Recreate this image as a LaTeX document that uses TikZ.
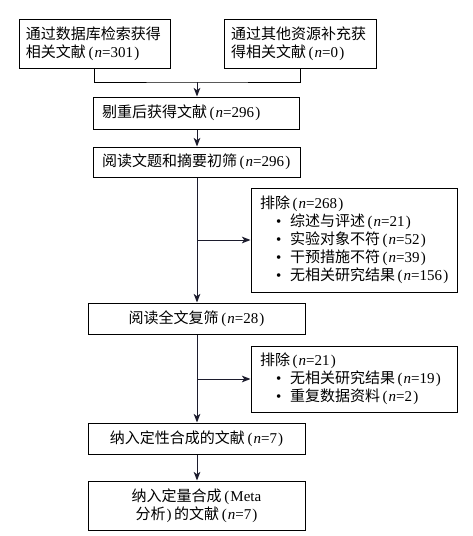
\documentclass[tikz,border=0pt]{standalone}
\usepackage{fontspec}
\usetikzlibrary{arrows.meta}
\setmainfont{Liberation Serif}
\newfontfamily\cjk{Noto Sans CJK SC}
\newcommand{\zh}[1]{{\cjk #1}}
\newcommand{\nval}[1]{\kern2pt(\kern0.8pt\textit{n}=#1\kern0.8pt)}
\newcommand{\excitem}[1]{\hspace*{12pt}\makebox[10.5pt][l]{•}#1}
\definecolor{ink}{RGB}{28,28,45}
\tikzset{
  box/.style={draw, line width=0.75pt, inner ysep=0pt,
    font=\fontsize{11.25pt}{13.5pt}\selectfont},
  flow/.style={-{Stealth[length=6.5pt,width=5pt,inset=1.8pt]}, line width=0.75pt, color=ink},
}
\begin{document}
\begin{tikzpicture}[x=0.75pt, y=-0.75pt]
  \useasboundingbox (0,0) rectangle (473,536);

  % identification
  \node[box, inner xsep=5.25pt, text width=102.75pt, align=left, minimum height=36.75pt] (db) at (94.5,43.5)
    {\zh{通过数据库检索获得}\\\zh{相关文献}\nval{301}};
  \node[box, inner xsep=5.25pt, text width=103.5pt, align=left, minimum height=36.75pt] (other) at (300,43.5)
    {\zh{通过其他资源补充获}\\\zh{得相关文献}\nval{0}};

  % screening
  \node[box, inner xsep=6.75pt, text width=141pt, align=left, minimum height=24pt] (dedup) at (196,113)
    {\zh{剔重后获得文献}\nval{296}};
  \node[box, inner xsep=6.75pt, text width=141.75pt, align=left, minimum height=22.5pt] (title) at (196.5,162)
    {\zh{阅读文题和摘要初筛}\nval{296}};
  \node[box, inner xsep=6.75pt, text width=141pt, align=left, minimum height=78pt] (excl1) at (354,240)
    {\zh{排除}\nval{268}\\
     \excitem{\zh{综述与评述}\nval{21}}\\
     \excitem{\zh{实验对象不符}\nval{52}}\\
     \excitem{\zh{干预措施不符}\nval{39}}\\
     \excitem{\zh{无相关研究结果}\nval{156}}};

  % eligibility
  \node[box, inner xsep=0pt, text width=162.75pt, align=center, minimum height=23.25pt] (full) at (196.5,318.5)
    {\zh{阅读全文复筛}\nval{28}};
  \node[box, inner xsep=6.75pt, text width=141pt, align=left, minimum height=49.5pt] (excl2) at (354,379)
    {\zh{排除}\nval{21}\\
     \excitem{\zh{无相关研究结果}\nval{19}}\\
     \excitem{\zh{重复数据资料}\nval{2}}};

  % included
  \node[box, inner xsep=0pt, text width=162.75pt, align=center, minimum height=23.25pt] (qual) at (196.5,438.5)
    {\zh{纳入定性合成的文献}\nval{7}};
  \node[box, inner xsep=0pt, text width=162.75pt, align=center, minimum height=36.75pt] (meta) at (196.5,505.5)
    {\zh{纳入定量合成}\kern2pt(\kern0.8pt Meta\\\zh{分析}\kern0.8pt)\kern2pt\zh{的文献}\nval{7}};

  % connectors
  \coordinate (join) at (197,82);
  \draw[line width=0.75pt] (db.south) |- (join) -| (other.south);
  \draw[flow] (join) -- (join |- dedup.north);
  \draw[flow] (join |- dedup.south) -- (join |- title.north);
  \draw[flow] (join |- title.south) -- (join |- full.north);
  \draw[flow] (join |- excl1.west) -- (excl1.west);
  \draw[flow] (join |- full.south) -- (join |- qual.north);
  \draw[flow] (join |- excl2.west) -- (excl2.west);
  \draw[flow] (join |- qual.south) -- (join |- meta.north);

\end{tikzpicture}
\end{document}
